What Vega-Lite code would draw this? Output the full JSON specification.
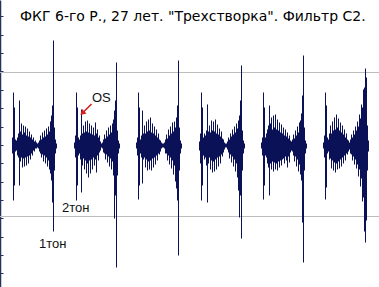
{
  "$schema": "https://vega.github.io/schema/vega-lite/v6.json",
  "width": 379,
  "height": 287,
  "autosize": {"type": "none"},
  "padding": 0,
  "background": "white",
  "config": {"view": {"stroke": null}},
  "title": {"text": "ФКГ 6-го Р., 27 лет. \"Трехстворка\". Фильтр С2.", "anchor": "start", "frame": "group", "orient": "top", "offset": -35, "baseline": "alphabetic", "dx": 20, "font": "DejaVu Sans", "fontSize": 14, "fontWeight": "normal", "color": "#000000"},
  "datasets": {
    "pcg": [
      {"t":0,"hi":0,"lo":0},{"t":120,"hi":8,"lo":-8},{"t":130,"hi":53,"lo":-55},{"t":140,"hi":38,"lo":-40},{"t":150,"hi":6,"lo":-6},{"t":160,"hi":5,"lo":-5},{"t":170,"hi":8,"lo":-10},{"t":180,"hi":12,"lo":-12},{"t":190,"hi":45,"lo":-40},
      {"t":200,"hi":14,"lo":-16},{"t":210,"hi":22,"lo":-12},{"t":220,"hi":11,"lo":-22},{"t":230,"hi":20,"lo":-13},{"t":240,"hi":13,"lo":-21},{"t":250,"hi":19,"lo":-12},{"t":260,"hi":10,"lo":-20},{"t":270,"hi":17,"lo":-11},{"t":280,"hi":9,"lo":-18},{"t":290,"hi":14,"lo":-10},{"t":300,"hi":8,"lo":-14},{"t":310,"hi":11,"lo":-8},{"t":320,"hi":6,"lo":-10},{"t":330,"hi":8,"lo":-5},{"t":340,"hi":4,"lo":-6},{"t":350,"hi":5,"lo":-3},{"t":360,"hi":3,"lo":-3},{"t":370,"hi":2,"lo":-2},{"t":380,"hi":3,"lo":-3},
      {"t":390,"hi":5,"lo":-6},{"t":400,"hi":10,"lo":-8},{"t":410,"hi":6,"lo":-12},{"t":420,"hi":13,"lo":-9},{"t":430,"hi":8,"lo":-16},{"t":440,"hi":15,"lo":-10},{"t":450,"hi":9,"lo":-18},{"t":460,"hi":17,"lo":-12},{"t":470,"hi":11,"lo":-21},{"t":480,"hi":19,"lo":-15},{"t":490,"hi":14,"lo":-24},{"t":500,"hi":24,"lo":-28},{"t":510,"hi":30,"lo":-35},{"t":520,"hi":40,"lo":-57},{"t":530,"hi":105,"lo":-86},{"t":540,"hi":18,"lo":-25},{"t":550,"hi":6,"lo":-8},{"t":560,"hi":2,"lo":-3},{"t":570,"hi":0,"lo":0},
      {"t":740,"hi":3,"lo":-3},{"t":750,"hi":10,"lo":-12},{"t":760,"hi":53,"lo":-55},{"t":770,"hi":38,"lo":-40},{"t":780,"hi":8,"lo":-10},{"t":790,"hi":6,"lo":-8},{"t":800,"hi":10,"lo":-14},{"t":810,"hi":36,"lo":-47},
      {"t":820,"hi":12,"lo":-20},{"t":830,"hi":20,"lo":-13},{"t":840,"hi":13,"lo":-24},{"t":850,"hi":24,"lo":-15},{"t":860,"hi":14,"lo":-28},{"t":870,"hi":25,"lo":-18},{"t":880,"hi":13,"lo":-32},{"t":890,"hi":22,"lo":-15},{"t":900,"hi":12,"lo":-28},{"t":910,"hi":20,"lo":-14},{"t":920,"hi":11,"lo":-24},{"t":930,"hi":18,"lo":-12},{"t":940,"hi":10,"lo":-20},{"t":950,"hi":23,"lo":-14},{"t":960,"hi":12,"lo":-27},{"t":970,"hi":16,"lo":-10},{"t":980,"hi":8,"lo":-15},{"t":990,"hi":10,"lo":-7},{"t":1000,"hi":4,"lo":-5},{"t":1010,"hi":2,"lo":-2},{"t":1020,"hi":3,"lo":-3},
      {"t":1030,"hi":6,"lo":-7},{"t":1040,"hi":11,"lo":-8},{"t":1050,"hi":7,"lo":-14},{"t":1060,"hi":15,"lo":-9},{"t":1070,"hi":9,"lo":-17},{"t":1080,"hi":18,"lo":-11},{"t":1090,"hi":11,"lo":-21},{"t":1100,"hi":20,"lo":-13},{"t":1110,"hi":13,"lo":-24},{"t":1120,"hi":22,"lo":-16},{"t":1130,"hi":26,"lo":-30},{"t":1140,"hi":35,"lo":-73},{"t":1150,"hi":45,"lo":-50},{"t":1160,"hi":83,"lo":-122},{"t":1170,"hi":15,"lo":-30},{"t":1180,"hi":5,"lo":-8},{"t":1190,"hi":2,"lo":-3},{"t":1200,"hi":0,"lo":0},
      {"t":1360,"hi":3,"lo":-3},{"t":1370,"hi":8,"lo":-10},{"t":1380,"hi":53,"lo":-54},{"t":1390,"hi":38,"lo":-40},{"t":1400,"hi":6,"lo":-8},{"t":1410,"hi":10,"lo":-12},{"t":1420,"hi":35,"lo":-38},
      {"t":1430,"hi":12,"lo":-14},{"t":1440,"hi":20,"lo":-12},{"t":1450,"hi":12,"lo":-22},{"t":1460,"hi":24,"lo":-14},{"t":1470,"hi":14,"lo":-25},{"t":1480,"hi":26,"lo":-16},{"t":1490,"hi":15,"lo":-24},{"t":1500,"hi":28,"lo":-15},{"t":1510,"hi":13,"lo":-25},{"t":1520,"hi":22,"lo":-13},{"t":1530,"hi":12,"lo":-22},{"t":1540,"hi":19,"lo":-12},{"t":1550,"hi":10,"lo":-19},{"t":1560,"hi":16,"lo":-10},{"t":1570,"hi":8,"lo":-15},{"t":1580,"hi":12,"lo":-8},{"t":1590,"hi":6,"lo":-9},{"t":1600,"hi":5,"lo":-6},{"t":1610,"hi":3,"lo":-3},{"t":1620,"hi":2,"lo":-2},{"t":1640,"hi":3,"lo":-3},
      {"t":1650,"hi":6,"lo":-8},{"t":1660,"hi":11,"lo":-8},{"t":1670,"hi":7,"lo":-15},{"t":1680,"hi":16,"lo":-10},{"t":1690,"hi":10,"lo":-19},{"t":1700,"hi":19,"lo":-12},{"t":1710,"hi":12,"lo":-23},{"t":1720,"hi":23,"lo":-15},{"t":1730,"hi":14,"lo":-29},{"t":1740,"hi":24,"lo":-20},{"t":1750,"hi":18,"lo":-36},{"t":1760,"hi":28,"lo":-43},{"t":1770,"hi":40,"lo":-55},{"t":1780,"hi":85,"lo":-110},{"t":1790,"hi":18,"lo":-25},{"t":1800,"hi":5,"lo":-8},{"t":1810,"hi":2,"lo":-3},{"t":1820,"hi":0,"lo":0},
      {"t":1990,"hi":4,"lo":-5},{"t":2000,"hi":12,"lo":-18},{"t":2010,"hi":53,"lo":-55},{"t":2020,"hi":38,"lo":-40},{"t":2030,"hi":8,"lo":-10},{"t":2040,"hi":12,"lo":-14},{"t":2050,"hi":10,"lo":-12},{"t":2060,"hi":15,"lo":-20},{"t":2070,"hi":41,"lo":-57},
      {"t":2080,"hi":14,"lo":-18},{"t":2090,"hi":20,"lo":-12},{"t":2100,"hi":13,"lo":-24},{"t":2110,"hi":25,"lo":-15},{"t":2120,"hi":15,"lo":-27},{"t":2130,"hi":24,"lo":-16},{"t":2140,"hi":14,"lo":-26},{"t":2150,"hi":26,"lo":-14},{"t":2160,"hi":12,"lo":-24},{"t":2170,"hi":21,"lo":-12},{"t":2180,"hi":11,"lo":-21},{"t":2190,"hi":17,"lo":-11},{"t":2200,"hi":9,"lo":-18},{"t":2210,"hi":14,"lo":-9},{"t":2220,"hi":7,"lo":-11},{"t":2230,"hi":6,"lo":-7},{"t":2240,"hi":3,"lo":-4},{"t":2250,"hi":2,"lo":-2},{"t":2270,"hi":4,"lo":-4},
      {"t":2280,"hi":8,"lo":-7},{"t":2290,"hi":6,"lo":-13},{"t":2300,"hi":12,"lo":-9},{"t":2310,"hi":9,"lo":-17},{"t":2320,"hi":16,"lo":-11},{"t":2330,"hi":11,"lo":-21},{"t":2340,"hi":19,"lo":-14},{"t":2350,"hi":13,"lo":-26},{"t":2360,"hi":22,"lo":-18},{"t":2370,"hi":17,"lo":-32},{"t":2380,"hi":25,"lo":-45},{"t":2390,"hi":30,"lo":-72},{"t":2400,"hi":45,"lo":-50},{"t":2410,"hi":80,"lo":-93},{"t":2420,"hi":15,"lo":-25},{"t":2430,"hi":5,"lo":-8},{"t":2440,"hi":2,"lo":-3},{"t":2450,"hi":0,"lo":0},
      {"t":2610,"hi":3,"lo":-3},{"t":2620,"hi":8,"lo":-10},{"t":2630,"hi":53,"lo":-54},{"t":2640,"hi":38,"lo":-40},{"t":2650,"hi":8,"lo":-10},{"t":2660,"hi":12,"lo":-12},{"t":2670,"hi":16,"lo":-18},{"t":2680,"hi":20,"lo":-22},{"t":2690,"hi":40,"lo":-50},
      {"t":2700,"hi":22,"lo":-18},{"t":2710,"hi":28,"lo":-24},{"t":2720,"hi":16,"lo":-16},{"t":2730,"hi":30,"lo":-26},{"t":2740,"hi":18,"lo":-17},{"t":2750,"hi":31,"lo":-24},{"t":2760,"hi":16,"lo":-18},{"t":2770,"hi":26,"lo":-25},{"t":2780,"hi":15,"lo":-16},{"t":2790,"hi":23,"lo":-22},{"t":2800,"hi":13,"lo":-15},{"t":2810,"hi":21,"lo":-20},{"t":2820,"hi":12,"lo":-14},{"t":2830,"hi":18,"lo":-13},{"t":2840,"hi":10,"lo":-18},{"t":2850,"hi":16,"lo":-11},{"t":2860,"hi":9,"lo":-15},{"t":2870,"hi":13,"lo":-22},{"t":2880,"hi":7,"lo":-11},{"t":2890,"hi":10,"lo":-17},{"t":2900,"hi":5,"lo":-7},{"t":2910,"hi":4,"lo":-5},
      {"t":2920,"hi":6,"lo":-6},{"t":2930,"hi":11,"lo":-10},{"t":2940,"hi":7,"lo":-16},{"t":2950,"hi":15,"lo":-11},{"t":2960,"hi":10,"lo":-21},{"t":2970,"hi":19,"lo":-14},{"t":2980,"hi":13,"lo":-26},{"t":2990,"hi":23,"lo":-19},{"t":3000,"hi":25,"lo":-29},{"t":3010,"hi":32,"lo":-35},{"t":3020,"hi":50,"lo":-77},{"t":3030,"hi":90,"lo":-117},{"t":3040,"hi":18,"lo":-25},{"t":3050,"hi":5,"lo":-8},{"t":3060,"hi":2,"lo":-3},{"t":3070,"hi":0,"lo":0},
      {"t":3230,"hi":3,"lo":-3},{"t":3240,"hi":10,"lo":-12},{"t":3250,"hi":53,"lo":-54},{"t":3260,"hi":40,"lo":-42},{"t":3270,"hi":8,"lo":-8},{"t":3280,"hi":6,"lo":-6},
      {"t":3290,"hi":12,"lo":-14},{"t":3300,"hi":20,"lo":-13},{"t":3310,"hi":12,"lo":-23},{"t":3320,"hi":24,"lo":-15},{"t":3330,"hi":15,"lo":-25},{"t":3340,"hi":28,"lo":-17},{"t":3350,"hi":16,"lo":-27},{"t":3360,"hi":31,"lo":-18},{"t":3370,"hi":18,"lo":-24},{"t":3380,"hi":27,"lo":-16},{"t":3390,"hi":15,"lo":-23},{"t":3400,"hi":23,"lo":-14},{"t":3410,"hi":13,"lo":-21},{"t":3420,"hi":20,"lo":-12},{"t":3430,"hi":11,"lo":-18},{"t":3440,"hi":16,"lo":-10},{"t":3450,"hi":8,"lo":-15},{"t":3460,"hi":12,"lo":-8},{"t":3470,"hi":6,"lo":-9},{"t":3480,"hi":5,"lo":-6},{"t":3490,"hi":3,"lo":-4},
      {"t":3500,"hi":6,"lo":-8},{"t":3510,"hi":11,"lo":-9},{"t":3520,"hi":8,"lo":-15},{"t":3530,"hi":15,"lo":-11},{"t":3540,"hi":11,"lo":-19},{"t":3550,"hi":19,"lo":-14},{"t":3560,"hi":15,"lo":-23},{"t":3570,"hi":24,"lo":-19},{"t":3580,"hi":19,"lo":-31},{"t":3590,"hi":31,"lo":-24},{"t":3600,"hi":27,"lo":-41},{"t":3610,"hi":41,"lo":-33},{"t":3620,"hi":38,"lo":-56},{"t":3630,"hi":56,"lo":-52},{"t":3640,"hi":58,"lo":-86},{"t":3650,"hi":77,"lo":-97},{"t":3660,"hi":68,"lo":-75},{"t":3670,"hi":20,"lo":-25},{"t":3680,"hi":5,"lo":-6},{"t":3690,"hi":0,"lo":0},{"t":3760,"hi":0,"lo":0}
    ],
    "grid": [{"g": 73}, {"g": -71}],
    "notes": [
      {"label": "OS", "t": 920, "a": 43.5},
      {"label": "2тон", "t": 620, "a": -66.5},
      {"label": "1тон", "t": 390, "a": -102.5}
    ],
    "arrow": [{"t": 915, "a": 41.5, "t2": 830, "a2": 33}]
  },
  "encoding": {
    "x": {"field": "t", "type": "quantitative", "scale": {"domain": [0, 3790], "nice": false, "zero": false}, "axis": null},
    "y": {"type": "quantitative", "scale": {"domain": [-141.5, 145.5], "nice": false, "zero": false},
      "axis": {"orient": "left", "title": null, "labels": false, "grid": false, "domain": true, "domainColor": "#24335e", "domainWidth": 1.5, "ticks": true, "tickColor": "#24335e", "tickSize": -3, "tickWidth": 1,
        "values": [129, 111, 92.5, 74, 56, 37.5, 19, 1, -17.5, -36, -54, -72.5, -91, -109, -127.5]}}
  },
  "layer": [
    {
      "data": {"name": "grid"},
      "mark": {"type": "rule", "color": "#bdbdbd", "strokeWidth": 1},
      "encoding": {"x": null, "y": {"field": "g", "type": "quantitative"}}
    },
    {
      "data": {"name": "pcg"},
      "mark": {"type": "area", "interpolate": "step-after", "color": "#0b1157", "opacity": 1},
      "encoding": {"y": {"field": "hi", "type": "quantitative"}, "y2": {"field": "lo"}}
    },
    {
      "data": {"values": [{"b": 1.4}, {"b": -1.4}]},
      "mark": {"type": "rule", "color": "#0b1157", "strokeWidth": 1.2},
      "encoding": {"x": {"datum": 0}, "x2": {"datum": 3760}, "y": {"field": "b", "type": "quantitative"}}
    },
    {
      "data": {"name": "notes"},
      "mark": {"type": "text", "align": "left", "baseline": "alphabetic", "font": "Liberation Sans", "fontSize": 13, "color": "#111111"},
      "encoding": {"y": {"field": "a", "type": "quantitative"}, "text": {"field": "label"}}
    },
    {
      "data": {"name": "arrow"},
      "mark": {"type": "rule", "color": "#d42020", "strokeWidth": 1.6},
      "encoding": {"y": {"field": "a", "type": "quantitative"}, "x2": {"field": "t2"}, "y2": {"field": "a2"}}
    },
    {
      "data": {"name": "arrow"},
      "mark": {"type": "point", "shape": "triangle", "filled": true, "color": "#d42020", "size": 40, "angle": 225, "opacity": 1},
      "encoding": {"x": {"field": "t2", "type": "quantitative"}, "y": {"field": "a2", "type": "quantitative"}}
    },
    {
      "mark": {"type": "rule", "color": "#666666", "strokeWidth": 2, "strokeDash": [1, 1]},
      "encoding": {"x": {"datum": 3775}, "y": null}
    }
  ]
}
